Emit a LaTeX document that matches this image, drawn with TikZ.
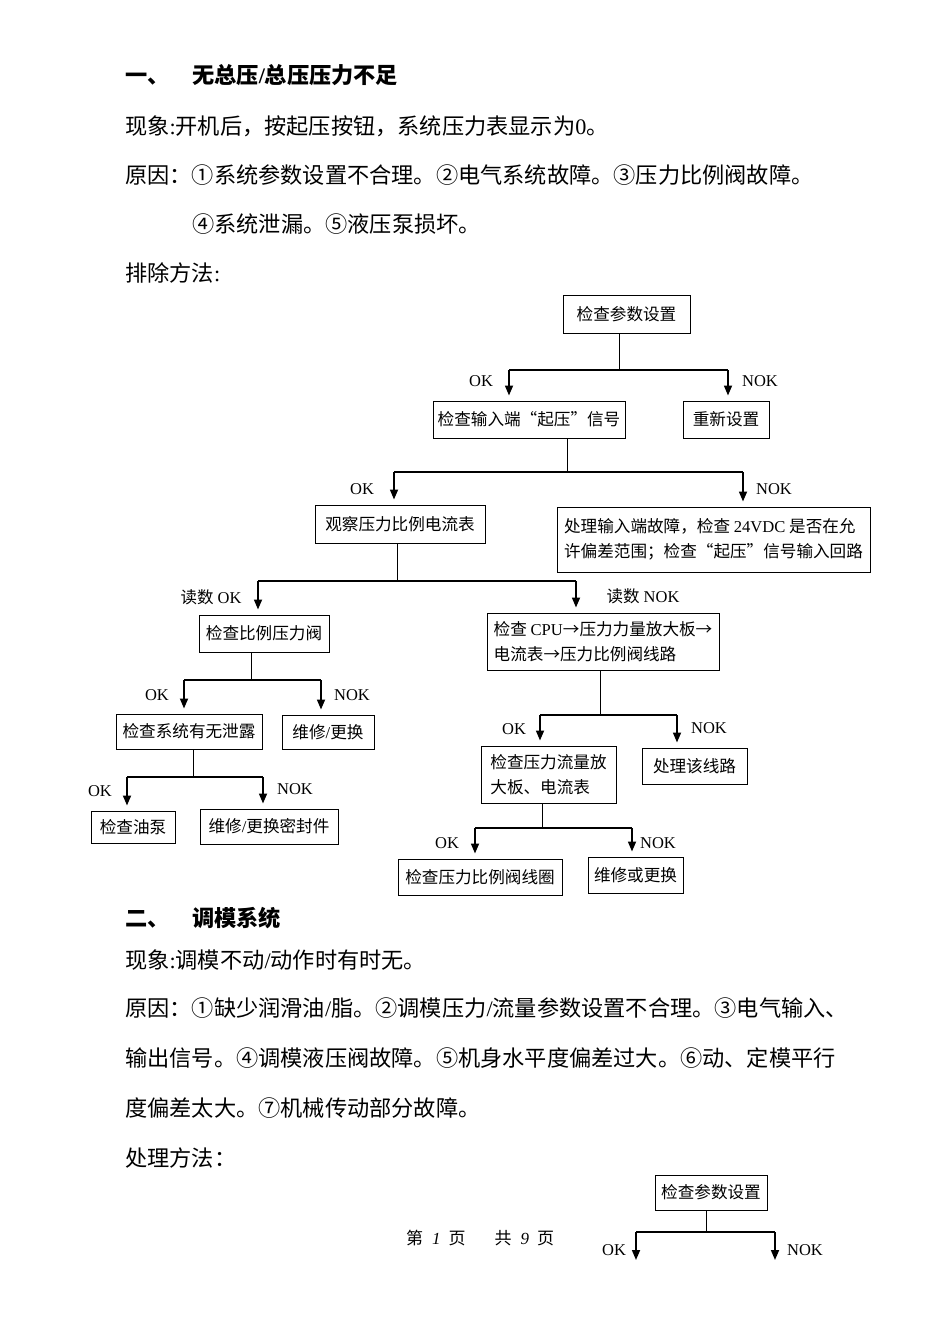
\documentclass[tikz,border=0pt]{standalone}
\usepackage{fontspec}
\setmainfont{Noto Sans CJK SC}
\newfontfamily\cjk{Noto Sans CJK SC}
\newfontfamily\lat{Liberation Serif}
\usetikzlibrary{arrows.meta}

\begin{document}
\begin{tikzpicture}[x=1pt, y=-1pt,
    box/.style={rectangle, draw=black, line width=1pt, inner sep=3pt,
                font=\fontsize{16.6}{25}\selectfont, align=left},
    lab/.style={font=\lat\fontsize{16.5}{20}\selectfont, inner sep=0pt},
    txt/.style={anchor=base west, inner sep=0pt, font=\fontsize{22.2}{26}\selectfont},
    head/.style={anchor=base west, inner sep=0pt, font=\bfseries\fontsize{22.2}{26}\selectfont},
    stem/.style={line width=0.9pt},
    bar/.style={line width=1.7pt},
    flow/.style={line width=1.7pt, -{Triangle[length=10pt, width=8pt]}, shorten >=5pt}
]
  \useasboundingbox (0,0) rectangle (950,1344);
  \fill[white] (0,0) rectangle (950,1344);

  % Section one
  \node[head] (h1a) at (125,83) {一、};
  \node[head] (h1b) at (192,83) {无总压{\lat /}总压压力不足};
  \node[txt] (sym1) at (125,134) {现象{\lat :}开机后，按起压按钮，系统压力表显示为{\lat 0}。};
  \node[txt] (why1) at (125,183) {原因：①系统参数设置不合理。②电气系统故障。③压力比例阀故障。};
  \node[txt] (why1b) at (192,232) {④系统泄漏。⑤液压泵损坏。};
  \node[txt] (fix1) at (125,281) {排除方法{\lat :}};

  % Flow chart one
  \node[box, minimum width=127, minimum height=38] (b1) at (626.5,314) {检查参数设置};
  \node[box, minimum width=192, minimum height=37] (b2) at (529,419.5) {检查输入端“起压”信号};
  \node[box, minimum width=86, minimum height=37] (b3) at (726,419.5) {重新设置};
  \node[box, minimum width=170, minimum height=38] (b4) at (400,524) {观察压力比例电流表};
  \node[box, minimum width=313, minimum height=65] (b5) at (713.5,539.5)
    {处理输入端故障，检查 {\lat 24VDC} 是否在允\\许偏差范围；检查“起压”信号输入回路};
  \node[box, minimum width=130, minimum height=37] (b6) at (264,633.5) {检查比例压力阀};
  \node[box, minimum width=232, minimum height=57] (b7) at (603,641.5)
    {检查 {\lat CPU}→压力力量放大板→\\电流表→压力比例阀线路};
  \node[box, minimum width=146, minimum height=35] (b8) at (189,731.5) {检查系统有无泄露};
  \node[box, minimum width=92, minimum height=34] (b9) at (328,732) {维修{\lat /}更换};
  \node[box, minimum width=84, minimum height=32] (b10) at (133,827) {检查油泵};
  \node[box, minimum width=138, minimum height=35] (b11) at (269,826.5) {维修{\lat /}更换密封件};
  \node[box, minimum width=135, minimum height=57] (b12) at (548.5,774.5) {检查压力流量放\\大板、电流表};
  \node[box, minimum width=105, minimum height=36] (b13) at (694.5,766) {处理该线路};
  \node[box, minimum width=164, minimum height=36] (b14) at (480,877) {检查压力比例阀线圈};
  \node[box, minimum width=95, minimum height=36] (b15) at (635.5,875) {维修或更换};

  \foreach \p/\sx/\by/\lx/\rx/\l/\r in {
      b1/619/370/509/728/b2/b3,
      b2/567/472/394/743/b4/b5,
      b4/397/581/258/576/b6/b7,
      b6/251/680/184/321/b8/b9,
      b8/193/777/127/263/b10/b11,
      b7/600/715/540/677/b12/b13,
      b12/542/828/475/632/b14/b15}{
    \coordinate (s\p) at (\sx,\by);
    \coordinate (l\p) at (\lx,\by);
    \coordinate (r\p) at (\rx,\by);
    \draw[stem] (\p.south -| s\p) -- (s\p);
    \draw[bar] (l\p) -- (r\p);
    \draw[flow] (l\p) -- (l\p |- \l.north);
    \draw[flow] (r\p) -- (r\p |- \r.north);
  }

  % branch labels
  \node[lab] (ok1) at (481,381) {OK};
  \node[lab] (nok1) at (760,381) {NOK};
  \node[lab] (ok2) at (362,489) {OK};
  \node[lab] (nok2) at (774,489) {NOK};
  \node[lab] (ok3) at (211,597) {{\cjk 读数} OK};
  \node[lab] (nok3) at (643,596) {{\cjk 读数} NOK};
  \node[lab] (ok4) at (157,695) {OK};
  \node[lab] (nok4) at (352,695) {NOK};
  \node[lab] (ok5) at (100,791) {OK};
  \node[lab] (nok5) at (295,789) {NOK};
  \node[lab] (ok6) at (514,729) {OK};
  \node[lab] (nok6) at (709,728) {NOK};
  \node[lab] (ok7) at (447,843) {OK};
  \node[lab] (nok7) at (658,843) {NOK};

  % Section two
  \node[head] (h2a) at (125,926) {二、};
  \node[head] (h2b) at (192,926) {调模系统};
  \node[txt] (sym2) at (125,968) {现象{\lat :}调模不动{\lat /}动作时有时无。};
  \node[txt] (why2) at (125,1016) {原因：①缺少润滑油{\lat /}脂。②调模压力{\lat /}流量参数设置不合理。③电气输入、};
  \node[txt] (why2b) at (125,1066) {输出信号。④调模液压阀故障。⑤机身水平度偏差过大。⑥动、定模平行};
  \node[txt] (why2c) at (125,1116) {度偏差太大。⑦机械传动部分故障。};
  \node[txt] (fix2) at (125,1166) {处理方法：};

  % Flow chart two
  \node[box, minimum width=112, minimum height=35] (b16) at (711,1192.5) {检查参数设置};
  \coordinate (sb16) at (706,1232);
  \coordinate (lb16) at (636,1232);
  \coordinate (rb16) at (775,1232);
  \coordinate (e1) at (636,1265);
  \coordinate (e2) at (775,1265);
  \draw[stem] (b16.south -| sb16) -- (sb16);
  \draw[bar] (lb16) -- (rb16);
  \draw[flow] (lb16) -- (e1);
  \draw[flow] (rb16) -- (e2);
  \node[lab] (ok8) at (614,1250) {OK};
  \node[lab] (nok8) at (805,1250) {NOK};

  % footer
  \node[anchor=base west, inner sep=0pt, font=\fontsize{17}{20}\selectfont] (foot) at (406,1244)
    {第\hspace{9pt}{\lat\itshape 1}\hspace{8pt}页\hspace{29pt}共\hspace{9pt}{\lat\itshape 9}\hspace{8pt}页};
\end{tikzpicture}
\end{document}
